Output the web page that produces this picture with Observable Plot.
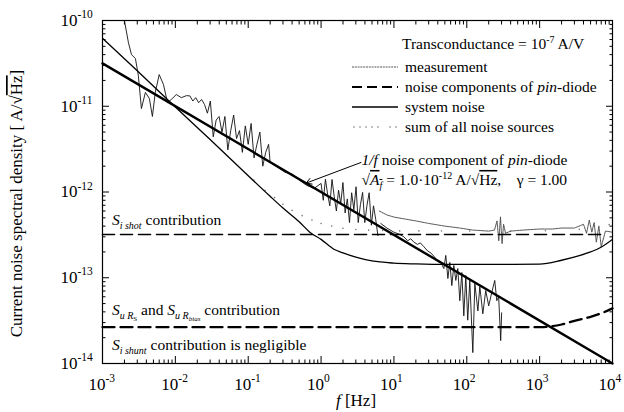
<!DOCTYPE html>
<html>
<head>
<meta charset="utf-8">
<script src="https://cdn.jsdelivr.net/npm/d3@7"></script>
<script src="https://cdn.jsdelivr.net/npm/@observablehq/plot@0.6"></script>
<style>
  html, body { margin: 0; padding: 0; background: #fff; }
</style>
</head>
<body>
<div id="chart"></div>
<script>
// ---------------- data ----------------
const xTickExp = [-3, -2, -1, 0, 1, 2, 3, 4];
const yTickExp = [-14, -13, -12, -11, -10];

// 1/f noise component of pin-diode (thick straight line)
const flickerF = [1e-3, 1e4];
const flickerS = [3.16e-11, 1e-14];

// S_i shot contribution (dashed)
const shotF = [1e-3, 7e3];
const shotS = [3.2e-13, 3.2e-13];

// S_uRs and S_uRbias contribution (dashed)
const resF = [1e-3, 1e3, 2e3, 3e3, 5e3, 7e3, 1e4];
const resS = [2.65e-14, 2.65e-14, 2.85e-14, 3.15e-14, 3.5e-14, 3.85e-14, 4.4e-14];

// system noise (thin solid)
const sysF = [1e-3, 3e-3, 1e-2, 3e-2, 0.1, 0.2, 0.3, 0.5, 0.7, 1, 1.5, 2, 3, 5, 10, 20, 50, 100, 300, 1000, 2000, 3600, 5000, 6850, 1e4];
const sysS = [6.2e-11, 2.6e-11, 9.8e-12, 4.1e-12, 1.55e-12, 8.9e-13, 6.5e-13, 4.5e-13, 3.4e-13, 2.8e-13, 2.15e-13, 1.95e-13, 1.74e-13, 1.57e-13, 1.48e-13, 1.45e-13, 1.43e-13, 1.43e-13, 1.43e-13, 1.44e-13, 1.6e-13, 1.82e-13, 2.0e-13, 2.25e-13, 2.8e-13];

// measurement, low-frequency span
const measLowF = [1.6e-3, 2.0e-3, 2.27e-3, 2.5e-3, 2.83e-3, 3.1e-3, 3.42e-3, 3.88e-3, 4.4e-3, 4.84e-3, 5.3e-3, 6.0e-3, 6.86e-3, 7.8e-3, 8.8e-3, 1.03e-2, 1.21e-2, 1.42e-2,
  0.01585, 0.01738, 0.01905, 0.02089, 0.02291, 0.02512, 0.02754, 0.0302, 0.03311, 0.03631, 0.03981, 0.04365, 0.04786, 0.05248, 0.05754, 0.0631, 0.06918, 0.07586, 0.08318, 0.0912, 0.1, 0.1096, 0.1202, 0.1318, 0.1445, 0.1585, 0.1738, 0.1905,
  0.2, 0.25, 0.32, 0.4, 0.5, 0.63, 0.8,
  1.0, 1.072, 1.148, 1.230, 1.318, 1.413, 1.514, 1.622, 1.738, 1.862, 1.995, 2.138, 2.291, 2.455, 2.630, 2.818, 3.020, 3.236, 3.467, 3.715, 3.981, 4.266, 4.571, 4.898, 5.248, 5.623, 6.026];
const measLowS = [2.1e-10, 1.0e-10, 5.5e-11, 4.0e-11, 3.6e-11, 2.3e-11, 9.4e-12, 1.45e-11, 1.23e-11, 7.6e-12, 1.45e-11, 2.34e-11, 1.8e-11, 1.1e-11, 1.2e-11, 1.37e-11, 1.26e-11, 1.33e-11,
  1.32e-11, 1.15e-11, 1.26e-11, 1.10e-11, 1.20e-11, 1.05e-11, 8.3e-12, 1.15e-11, 4.4e-12, 6.9e-12, 7.6e-12, 5.0e-12, 7.6e-12, 3.1e-12, 5.2e-12, 7.9e-12, 4.2e-12, 5.2e-12, 2.9e-12, 5.9e-12, 3.6e-12, 6.3e-12, 2.5e-12, 3.6e-12, 5.0e-12, 2.0e-12, 2.9e-12, 3.6e-12,
  2.2e-12, 1.95e-12, 1.7e-12, 1.62e-12, 1.38e-12, 1.2e-12, 1.1e-12,
  1.26e-12, 8.0e-13, 1.41e-12, 9.4e-13, 6.9e-13, 1.40e-12, 8.9e-13, 6.0e-13, 1.05e-12, 7.3e-13, 1.29e-12, 5.7e-13, 8.3e-13, 4.4e-13, 9.8e-13, 6.2e-13, 1.15e-12, 4.4e-13, 7.1e-13, 9.9e-13, 4.4e-13, 7.0e-13, 9.8e-13, 4.1e-13, 6.9e-13, 4.8e-13, 3.1e-13];

// measurement, upper plateau (6 Hz .. 10 kHz)
const measHighF = [6.3, 8, 10, 15, 20, 30, 50, 80, 120, 200, 240, 260, 275, 290, 305, 320, 340, 400, 600, 1000, 1500, 2000, 3000, 4000, 4400, 4800, 5200, 5600, 6000, 6500, 7000, 8000, 10000];
const measHighS = [6.0e-13, 5.4e-13, 5.1e-13, 4.8e-13, 4.6e-13, 4.3e-13, 4.0e-13, 3.8e-13, 3.6e-13, 3.5e-13, 3.6e-13, 4.6e-13, 2.7e-13, 5.1e-13, 2.5e-13, 4.2e-13, 3.3e-13, 3.5e-13, 3.6e-13, 3.7e-13, 3.7e-13, 3.8e-13, 3.8e-13, 4.2e-13, 3.3e-13, 4.7e-13, 3.4e-13, 4.4e-13, 2.6e-13, 4.0e-13, 2.3e-13, 3.5e-13, 3.4e-13];

// measurement along the 1/f line (6 .. 300 Hz)
const measMidF = [6.6, 8.0, 10, 12, 13.7, 15.5, 17, 18.8, 21, 23, 25.8, 29, 32.1, 36, 40.1,
  44, 48.4, 51.5, 55, 58.5, 62.3, 66.4, 70.7, 75.3, 80.2, 85.5, 91, 96.9, 103, 110, 121, 129, 142, 151, 166, 182, 200, 220, 242, 258, 274, 292, 301];
const measMidS = [4.3e-13, 3.8e-13, 3.4e-13, 3.2e-13, 3.0e-13, 2.7e-13, 2.85e-13, 2.6e-13, 2.45e-13, 2.55e-13, 2.3e-13, 2.05e-13, 1.95e-13, 1.75e-13, 1.55e-13,
  1.51e-13, 1.28e-13, 1.82e-13, 9.8e-14, 1.51e-13, 8.1e-14, 1.39e-13, 9.3e-14, 1.28e-13, 5.4e-14, 1.15e-13, 3.6e-14, 1.06e-13, 3.2e-14, 9.3e-14, 1.34e-14, 8.6e-14, 4.1e-14, 7.9e-14, 3.8e-14, 7.1e-14, 4.7e-14, 6.7e-14, 9.3e-14, 5.4e-14, 6.0e-14, 1.85e-14, 3.9e-14];

// sum of all noise sources (sparse dots)
const sumF = [0.12, 0.17, 0.23, 0.3, 0.4, 0.55, 0.75, 1.0, 1.4, 2.0, 3.0, 4.5, 7, 12, 22, 45, 110, 400, 1200, 3500, 9000];
const sumS = [1.38e-12, 1.05e-12, 8.6e-13, 7.2e-13, 6.1e-13, 5.3e-13, 4.7e-13, 4.3e-13, 4.0e-13, 3.78e-13, 3.65e-13, 3.59e-13, 3.55e-13, 3.52e-13, 3.52e-13, 3.51e-13, 3.51e-13, 3.51e-13, 3.53e-13, 3.67e-13, 4.16e-13];

// annotation anchors (data coordinates)
const arrowFrom = {f: 3.53, s: 2.21e-12};
const arrowTo = {f: 0.624, s: 1.27e-12};
const flickerLabelAt = {f: 3.65, s: 2.04e-12};
const labelF = 1.37e-3;

// ---------------- build ----------------
const FONT = "'Liberation Serif', serif";
const tab = (F, S) => F.map((f, i) => ({f, s: S[i]}));

const xMajor = xTickExp.map(e => 10 ** e);
const yMajor = yTickExp.map(e => 10 ** e);
const minorOf = exps => {
  const out = [];
  for (let k = 0; k < exps.length - 1; k++) for (let m = 2; m <= 9; m++) out.push(m * 10 ** exps[k]);
  return out;
};
const xMinor = minorOf(xTickExp);
const yMinor = minorOf(yTickExp);

const plot = Plot.plot({
  width: 624,
  height: 412,
  marginLeft: 102,
  marginRight: 12,
  marginTop: 20,
  marginBottom: 49,
  x: {type: "log", domain: [1e-3, 1e4], axis: null},
  y: {type: "log", domain: [1e-14, 1e-10], axis: null},
  marks: [
    // inward ticks on all four sides
    Plot.axisX(xMajor, {anchor: "bottom", tickSize: -7, fill: "none", label: null}),
    Plot.axisX(xMajor, {anchor: "top", tickSize: -7, fill: "none", label: null}),
    Plot.axisX(xMinor, {anchor: "bottom", tickSize: -3.5, fill: "none", label: null}),
    Plot.axisX(xMinor, {anchor: "top", tickSize: -3.5, fill: "none", label: null}),
    Plot.axisY(yMajor, {anchor: "left", tickSize: -7, fill: "none", label: null}),
    Plot.axisY(yMajor, {anchor: "right", tickSize: -7, fill: "none", label: null}),
    Plot.axisY(yMinor, {anchor: "left", tickSize: -3.5, fill: "none", label: null}),
    Plot.axisY(yMinor, {anchor: "right", tickSize: -3.5, fill: "none", label: null}),

    // tick labels 10^n
    Plot.text(xTickExp, {x: e => 10 ** e, frameAnchor: "bottom", dy: 21, dx: 3, text: () => "10", textAnchor: "end", fontSize: 17, lineAnchor: "middle"}),
    Plot.text(xTickExp, {x: e => 10 ** e, frameAnchor: "bottom", dy: 15, dx: 3, text: e => String(e), textAnchor: "start", fontSize: 11.5, lineAnchor: "middle"}),
    Plot.text(yTickExp, {y: e => 10 ** e, frameAnchor: "left", dx: -25, text: () => "10", textAnchor: "end", fontSize: 17, lineAnchor: "middle"}),
    Plot.text(yTickExp, {y: e => 10 ** e, frameAnchor: "left", dx: -25, dy: -6, text: e => String(e), textAnchor: "start", fontSize: 11.5, lineAnchor: "middle"}),

    // curves
    Plot.dot(tab(sumF, sumS), {x: "f", y: "s", r: 0.8, fill: "#777", stroke: "none"}),
    Plot.line(tab(measHighF, measHighS), {x: "f", y: "s", stroke: "#444", strokeWidth: 0.9, strokeDasharray: "2,0.8", clip: true}),
    Plot.line(tab(measLowF, measLowS), {x: "f", y: "s", stroke: "#111", strokeWidth: 0.9, clip: true}),
    Plot.line(tab(measMidF, measMidS), {x: "f", y: "s", stroke: "#111", strokeWidth: 0.9, clip: true}),
    Plot.line(tab(shotF, shotS), {x: "f", y: "s", stroke: "#000", strokeWidth: 1.6, strokeDasharray: "12,6"}),
    Plot.line(tab(resF, resS), {x: "f", y: "s", stroke: "#000", strokeWidth: 2.3, strokeDasharray: "12,6", curve: "monotone-x"}),
    Plot.line(tab(sysF, sysS), {x: "f", y: "s", stroke: "#000", strokeWidth: 1.3, curve: "monotone-x", clip: true}),
    Plot.line(tab(flickerF, flickerS), {x: "f", y: "s", stroke: "#000", strokeWidth: 2.4}),

    // annotation arrow
    Plot.arrow([{a: arrowFrom, b: arrowTo}], {x1: d => d.a.f, y1: d => d.a.s, x2: d => d.b.f, y2: d => d.b.s, stroke: "#000", strokeWidth: 1, headLength: 9}),

    Plot.frame({stroke: "#000", strokeWidth: 1.2})
  ]
});

document.getElementById("chart").appendChild(plot);

// ---------------- rich text (annotations, legend, titles) ----------------
const xs = plot.scale("x"), ys = plot.scale("y");
const X = v => xs.apply(v), Y = v => ys.apply(v);
const svg = d3.select(plot);
const g = svg.append("g").attr("fill", "#000");

function rich(parent, x, y, parts, size = 15.5, anchor = "start") {
  const t = parent.append("text").attr("x", x).attr("y", y).attr("font-size", size).attr("text-anchor", anchor);
  for (const p of parts) {
    const s = t.append("tspan").text(p.t);
    if (p.i) s.attr("font-style", "italic");
    if (p.fs) s.attr("font-size", p.fs);
    if (p.dy) s.attr("dy", p.dy);
    if (p.o) s.attr("text-decoration", "overline");
  }
  return t;
}

const left = X(labelF);
rich(g, left, Y(shotS[0]) - 9, [
  {t: "S", i: 1}, {t: "i shot", i: 1, fs: 10, dy: 4}, {t: " contribution", dy: -4}
]);
rich(g, left, Y(resS[0]) - 12, [
  {t: "S", i: 1}, {t: "u R", i: 1, fs: 10, dy: 4}, {t: "S", fs: 7, dy: 2},
  {t: " and ", dy: -6},
  {t: "S", i: 1}, {t: "u R", i: 1, fs: 10, dy: 4}, {t: "bias", i: 1, fs: 7, dy: 2},
  {t: " contribution", dy: -6}
]);
rich(g, left, Y(resS[0]) + 23, [
  {t: "S", i: 1}, {t: "i shunt", i: 1, fs: 10, dy: 4}, {t: " contribution is negligible", dy: -4}
]);

const fx = X(flickerLabelAt.f), fy = Y(flickerLabelAt.s);
rich(g, fx, fy, [
  {t: "1/f", i: 1}, {t: " noise component of "}, {t: "pin", i: 1}, {t: "-diode"}
]);
rich(g, fx, fy + 20, [
  {t: "√"}, {t: "A", i: 1, o: 1}, {t: "f", i: 1, fs: 10, dy: 4, o: 1},
  {t: " = 1.0·10", dy: -4}, {t: "-12", fs: 10, dy: -6}, {t: " A/√", dy: 6}, {t: "Hz", o: 1},
  {t: ",    γ = 1.00"}
]);

// legend
const lg = g.append("g");
const lx0 = 352, lx1 = 398, tx = 405;
rich(lg, 402, 49, [{t: "Transconductance = 10"}, {t: "-7", fs: 10, dy: -6}, {t: " A/V", dy: 6}]);
lg.append("line").attr("x1", lx0).attr("x2", lx1).attr("y1", 67).attr("y2", 67)
  .attr("stroke", "#444").attr("stroke-width", 0.9).attr("stroke-dasharray", "2,0.8");
lg.append("line").attr("x1", lx0).attr("x2", lx1).attr("y1", 87).attr("y2", 87)
  .attr("stroke", "#000").attr("stroke-width", 2).attr("stroke-dasharray", "10,5");
lg.append("line").attr("x1", lx0).attr("x2", lx1).attr("y1", 107).attr("y2", 107)
  .attr("stroke", "#000").attr("stroke-width", 1.3);
lg.selectAll("circle.s").data([0, 6, 12, 18, 24, 36, 42]).join("circle")
  .attr("cx", d => lx0 + 2 + d).attr("cy", 127).attr("r", 0.8).attr("fill", "#777");
rich(lg, tx, 72, [{t: "measurement"}]);
rich(lg, tx, 92, [{t: "noise components of "}, {t: "pin", i: 1}, {t: "-diode"}]);
rich(lg, tx, 112, [{t: "system noise"}]);
rich(lg, tx, 132, [{t: "sum of all noise sources"}]);

// axis titles
rich(g, 356, 406, [{t: "f", i: 1}, {t: " [Hz]"}], 17, "middle");
const yt = rich(g, 0, 0, [{t: "Current noise spectral density [ A/√"}, {t: "Hz", o: 1}, {t: "]"}], 17, "middle");
yt.attr("transform", `translate(22,${(Y(1e-10) + Y(1e-14)) / 2 + 12}) rotate(-90)`);

// serif face, forced with inline !important on the root and every text node
plot.setAttribute("font-family", "Liberation Serif");
plot.style.setProperty("font-family", FONT, "important");
svg.selectAll("text, tspan").each(function () {
  this.setAttribute("font-family", "Liberation Serif");
  this.style.setProperty("font-family", FONT, "important");
});
</script>
</body>
</html>
